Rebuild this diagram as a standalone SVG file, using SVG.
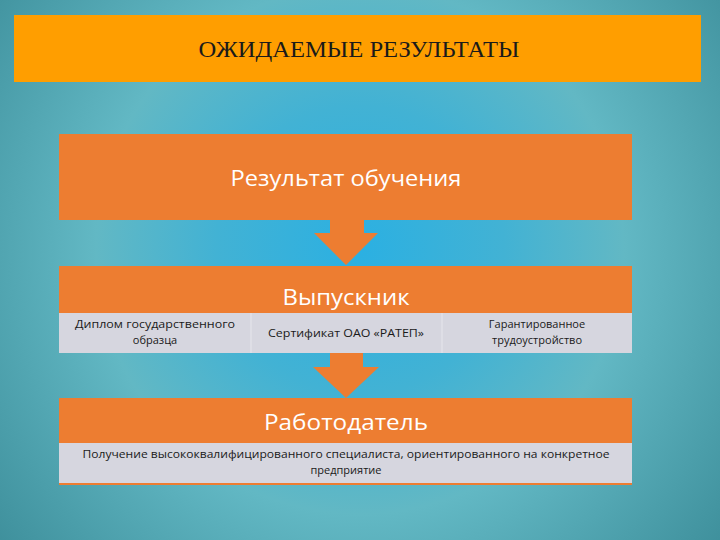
<svg xmlns="http://www.w3.org/2000/svg" width="720" height="540" viewBox="0 0 720 540">
  <defs>
    <radialGradient id="bg" cx="360" cy="250" r="480" gradientUnits="userSpaceOnUse">
      <stop offset="0" stop-color="#2BB0E2"/>
      <stop offset="0.3" stop-color="#42B2D4"/>
      <stop offset="0.55" stop-color="#62B8C4"/>
      <stop offset="1" stop-color="#3C8D99"/>
    </radialGradient>
    <style>
      .orange { fill: #ED7D31; }
      .gray { fill: #D6D6DF; }
      .head { font-family: "Open Sans", "Liberation Sans", sans-serif; fill: #FFFFFF; text-anchor: middle; }
      .small { font-family: "Open Sans", "Liberation Sans", sans-serif; font-size: 11px; fill: #1A1A1A; text-anchor: middle; }
      .div { stroke: #E6E6EC; stroke-width: 1; }
    </style>
  </defs>
  <rect width="720" height="540" fill="url(#bg)"/>

  <g id="title">
    <rect x="14" y="15" width="687" height="67" fill="#FF9E00"/>
    <text x="359" y="57" font-family="Liberation Serif, serif" font-size="23" fill="#1A1A1A" text-anchor="middle" textLength="321" lengthAdjust="spacingAndGlyphs">ОЖИДАЕМЫЕ РЕЗУЛЬТАТЫ</text>
  </g>

  <g id="connectors">
    <polygon class="orange" points="330,219 364,219 364,233 378,233 346,265 314,233 330,233"/>
    <polygon class="orange" points="330,351 363,351 363,367 379,367 346,398 313,367 330,367"/>
  </g>

  <g id="node-result">
    <rect class="orange" x="59" y="134" width="573" height="86"/>
    <text class="head" x="346" y="186" font-size="22" textLength="231" lengthAdjust="spacingAndGlyphs">Результат обучения</text>
  </g>

  <g id="node-graduate">
    <rect class="orange" x="59" y="266" width="573" height="47"/>
    <text class="head" x="346" y="305" font-size="22" textLength="127" lengthAdjust="spacingAndGlyphs">Выпускник</text>
    <rect class="gray" x="59" y="313" width="573" height="40"/>
    <line class="div" x1="251" y1="313" x2="251" y2="353"/>
    <line class="div" x1="442" y1="313" x2="442" y2="353"/>
    <text class="small" x="155" y="328" textLength="160" lengthAdjust="spacingAndGlyphs">Диплом государственного</text>
    <text class="small" x="155" y="344">образца</text>
    <text class="small" x="346" y="337" textLength="156" lengthAdjust="spacingAndGlyphs">Сертификат ОАО «РАТЕП»</text>
    <text class="small" x="537" y="328">Гарантированное</text>
    <text class="small" x="537" y="344">трудоустройство</text>
  </g>

  <g id="node-employer">
    <rect class="orange" x="59" y="398" width="573" height="87"/>
    <text class="head" x="346" y="430" font-size="22" textLength="164" lengthAdjust="spacingAndGlyphs">Работодатель</text>
    <rect class="gray" x="59" y="443" width="573" height="40"/>
    <text class="small" x="346" y="458" textLength="527" lengthAdjust="spacingAndGlyphs">Получение высококвалифицированного специалиста, ориентированного на конкретное</text>
    <text class="small" x="346" y="474">предприятие</text>
  </g>
</svg>
